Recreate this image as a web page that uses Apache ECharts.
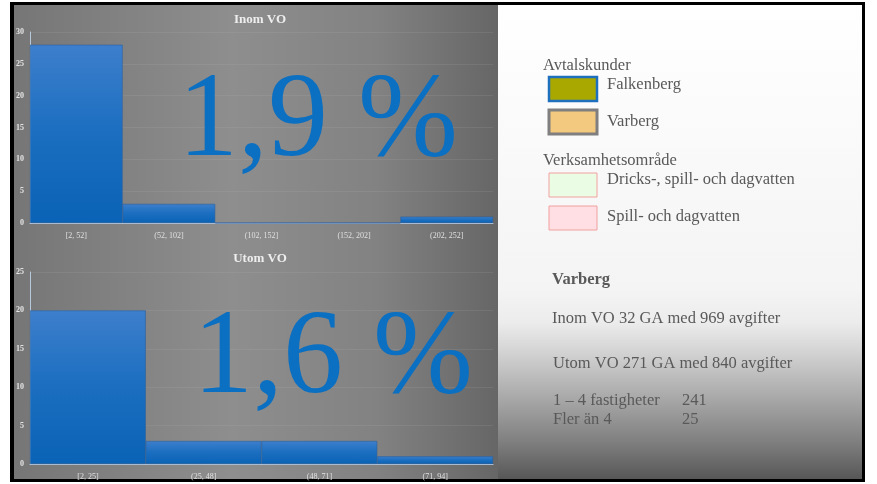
<!DOCTYPE html>
<html>
<head>
<meta charset="utf-8">
<script src="https://cdn.jsdelivr.net/npm/echarts@6/dist/echarts.min.js"></script>
<style>
html, body { margin: 0; padding: 0; background: #fff; }
#main { width: 877px; height: 484px; }
</style>
</head>
<body>
<div id="main"></div>
<script>
// Inom VO histogram
var inomCats = ['[2, 52]', '(52, 102]', '(102, 152]', '(152, 202]', '(202, 252]'];
var inomVals = [28, 3, 0, 0, 1];
var inomTicks = [0, 5, 10, 15, 20, 25, 30];

// Utom VO histogram
var utomCats = ['[2, 25]', '(25, 48]', '(48, 71]', '(71, 94]'];
var utomVals = [20, 3, 3, 1];
var utomTicks = [0, 5, 10, 15, 20, 25];

var chart = echarts.init(document.getElementById('main'));

var serif = '"Liberation Serif", "DejaVu Serif", serif';
var txtGray = '#595959';

var barColor = new echarts.graphic.LinearGradient(0, 0, 0, 1, [
    { offset: 0, color: '#3d7fcc' },
    { offset: 0.5, color: '#1b6ec0' },
    { offset: 1, color: '#0a63b6' }
]);

function panelBg() {
    return new echarts.graphic.LinearGradient(0, 0, 1, 0, [
        { offset: 0, color: '#767676' },
        { offset: 0.45, color: '#8e8e8e' },
        { offset: 0.75, color: '#828282' },
        { offset: 1, color: '#666666' }
    ]);
}

function yAxisFor(idx, ticks) {
    return {
        gridIndex: idx,
        type: 'value',
        min: ticks[0],
        max: ticks[ticks.length - 1],
        interval: 5,
        axisLine: { show: true, lineStyle: { color: '#b8c8dc', width: 1 } },
        axisTick: { show: false },
        splitLine: { lineStyle: { color: 'rgba(200,200,200,0.12)' } },
        axisLabel: { color: '#e4e4e4', fontSize: 8, fontWeight: 'bold', fontFamily: serif, margin: 6 }
    };
}

function xAxisFor(idx, cats) {
    return {
        gridIndex: idx,
        type: 'category',
        data: cats,
        axisLine: { lineStyle: { color: '#b8c8dc', width: 1 } },
        axisTick: { show: false },
        axisLabel: { color: '#e0e0e0', fontSize: 8, fontFamily: serif, margin: 9 }
    };
}

function barSeries(idx, vals) {
    return {
        type: 'bar',
        xAxisIndex: idx,
        yAxisIndex: idx,
        data: vals,
        barCategoryGap: '0%',
        itemStyle: { color: barColor, borderColor: '#2a5f9e', borderWidth: 0.6 },
        silent: true
    };
}

function legendBox(y, fill, stroke, lw) {
    return {
        type: 'rect',
        shape: { x: 549, y: y, width: 48, height: 24 },
        style: { fill: fill, stroke: stroke, lineWidth: lw },
        z: 10
    };
}

function label(x, y, text, size, weight) {
    return {
        type: 'text',
        x: x, y: y,
        style: {
            text: text, fill: txtGray, fontSize: size || 16.5,
            fontWeight: weight || 'normal', fontFamily: serif,
            textVerticalAlign: 'middle'
        },
        z: 10
    };
}

var option = {
    animation: false,
    title: [
        {
            text: 'Inom VO', left: 255, top: 8, textAlign: 'center',
            textStyle: { color: '#eeeeee', fontSize: 13, fontWeight: 'bold', fontFamily: serif }
        },
        {
            text: 'Utom VO', left: 255, top: 247, textAlign: 'center',
            textStyle: { color: '#eeeeee', fontSize: 13, fontWeight: 'bold', fontFamily: serif }
        }
    ],
    grid: [
        { left: 30, top: 32, width: 463, height: 191 },
        { left: 30, top: 272, width: 463, height: 192 }
    ],
    xAxis: [xAxisFor(0, inomCats), xAxisFor(1, utomCats)],
    yAxis: [yAxisFor(0, inomTicks), yAxisFor(1, utomTicks)],
    series: [barSeries(0, inomVals), barSeries(1, utomVals)],
    graphic: [
        // frame and panel backgrounds
        { type: 'rect', shape: { x: 10, y: 2, width: 855, height: 480 }, style: { fill: '#000' }, z: -10 },
        { type: 'rect', shape: { x: 14, y: 5, width: 484, height: 239 }, style: { fill: panelBg() }, z: -9 },
        { type: 'rect', shape: { x: 14, y: 244, width: 484, height: 235 }, style: { fill: panelBg() }, z: -9 },
        {
            type: 'rect', shape: { x: 498, y: 5, width: 364, height: 474 },
            style: {
                fill: new echarts.graphic.LinearGradient(0, 0, 0, 1, [
                    { offset: 0, color: '#ffffff' },
                    { offset: 0.6, color: '#f4f4f4' },
                    { offset: 0.67, color: '#ececec' },
                    { offset: 0.73, color: '#d4d4d4' },
                    { offset: 0.83, color: '#a8a8a8' },
                    { offset: 0.92, color: '#808080' },
                    { offset: 1, color: '#575757' }
                ])
            },
            z: -9
        },
        // big percentages
        {
            type: 'text', x: 318, y: 123,
            style: {
                text: '1,9 %', fill: '#0b6fc2', fontSize: 120, fontFamily: serif,
                textAlign: 'center', textVerticalAlign: 'middle'
            },
            z: 100
        },
        {
            type: 'text', x: 333, y: 360,
            style: {
                text: '1,6 %', fill: '#0b6fc2', fontSize: 120, fontFamily: serif,
                textAlign: 'center', textVerticalAlign: 'middle'
            },
            z: 100
        },
        // legend
        label(543, 66, 'Avtalskunder'),
        legendBox(77, '#a8a800', '#1f6fbf', 2.5),
        label(607, 85, 'Falkenberg'),
        legendBox(110, '#f2c97f', '#7f7f7f', 3),
        label(607, 122, 'Varberg'),
        label(543, 161, 'Verksamhetsområde'),
        legendBox(173, '#eafde4', '#f2a0a0', 1),
        label(607, 180, 'Dricks-, spill- och dagvatten'),
        legendBox(206, '#ffdfe3', '#f2a0a0', 1),
        label(607, 217, 'Spill- och dagvatten'),
        // Varberg facts
        label(552, 280, 'Varberg', 16.5, 'bold'),
        label(552, 319, 'Inom VO 32 GA med 969 avgifter'),
        label(553, 364, 'Utom VO 271 GA med 840 avgifter'),
        label(553, 401, '1 – 4 fastigheter'),
        label(682, 401, '241'),
        label(553, 420, 'Fler än 4'),
        label(682, 420, '25')
    ]
};

chart.setOption(option);
</script>
</body>
</html>
